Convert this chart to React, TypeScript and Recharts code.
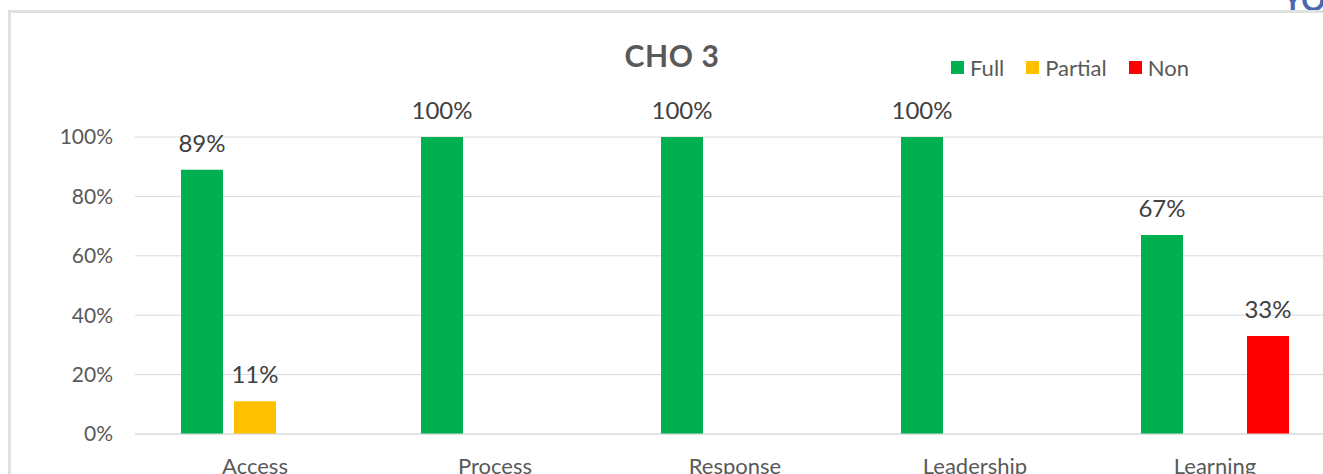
import React from 'react';
import { BarChart, Bar, XAxis, YAxis, CartesianGrid, LabelList, Legend } from 'recharts';

// Share of items rated Full / Partial / Non per domain
const categories = ['Access', 'Process', 'Response', 'Leadership', 'Learning'];
const fullValues = [0.89, 1, 1, 1, 0.67];
const partialValues = [0.11, 0, 0, 0, 0];
const nonValues = [0, 0, 0, 0, 0.33];
const yTicks = [0, 0.2, 0.4, 0.6, 0.8, 1];

const seriesNames = ['Full', 'Partial', 'Non'];
const seriesColors = ['#00B050', '#FFC000', '#FF0000'];

const data = categories.map((name, i) => ({
  name,
  Full: fullValues[i],
  Partial: partialValues[i],
  Non: nonValues[i],
}));

const FONT = 'Lato, "Open Sans", sans-serif';
const pct = (v: number) => `${Math.round(v * 100)}%`;
const labelFmt = (v: any) => (Number(v) > 0 ? pct(Number(v)) : '');

const LegendContent = () => (
  <div style={{ display: 'flex', alignItems: 'center', fontFamily: FONT, fontSize: 22, color: '#595959', whiteSpace: 'nowrap' }}>
    {seriesNames.map((n, i) => (
      <div key={n} style={{ display: 'flex', alignItems: 'center', marginRight: 22 }}>
        <span style={{ display: 'inline-block', width: 13, height: 13, background: seriesColors[i], marginRight: 6 }} />
        <span>{n}</span>
      </div>
    ))}
  </div>
);

export default function App() {
  return (
    <div style={{ position: 'absolute', left: 0, top: 0, width: 1323, height: 474, overflow: 'hidden', background: '#fff' }}>
      {/* heading fragment above the chart frame */}
      <div style={{ position: 'absolute', left: 1283, top: -19, fontFamily: FONT, fontWeight: 700, fontSize: 30, color: '#4A66AC', whiteSpace: 'nowrap' }}>
        YOU
      </div>
      <div style={{ position: 'absolute', left: 0, top: 10, width: 1323, height: 464, background: '#fff' }} />
      <div style={{ position: 'absolute', left: 8, top: 10, width: 1400, height: 500, borderLeft: '3px solid #e0e0e0', borderTop: '3px solid #e0e0e0' }} />
      <div style={{ position: 'absolute', left: 0, top: 0 }}>
        <BarChart
          width={1335}
          height={474}
          data={data}
          margin={{ top: 137, right: 0, bottom: 0, left: 0 }}
          barSize={42}
          barGap={11}
          barCategoryGap={46}
        >
          <CartesianGrid vertical={false} stroke="#d9d9d9" strokeWidth={1} />
          <XAxis
            dataKey="name"
            height={40}
            tickLine={false}
            tickSize={0}
            tickMargin={24}
            axisLine={{ stroke: '#d9d9d9' }}
            tick={{ fill: '#595959', fontSize: 22, fontFamily: FONT }}
          />
          <YAxis
            width={135}
            domain={[0, 1]}
            ticks={yTicks}
            tickFormatter={pct}
            tickLine={false}
            tickSize={0}
            tickMargin={22}
            axisLine={false}
            tick={{ fill: '#595959', fontSize: 21, fontFamily: FONT }}
          />
          <Legend
            layout="horizontal"
            verticalAlign="middle"
            align="center"
            content={<LegendContent />}
            wrapperStyle={{ left: 951, top: 54, width: 'auto', height: 26 }}
          />
          {seriesNames.map((n, i) => (
            <Bar key={n} dataKey={n} fill={seriesColors[i]} isAnimationActive={false}>
              <LabelList
                dataKey={n}
                position="top"
                offset={18}
                formatter={labelFmt}
                style={{ fill: '#404040', fontSize: 24, fontFamily: FONT }}
              />
            </Bar>
          ))}
        </BarChart>
      </div>
      <div style={{ position: 'absolute', left: 0, width: 1344, top: 37, textAlign: 'center', fontFamily: FONT, fontWeight: 700, fontSize: 30, letterSpacing: 0.6, color: '#595959' }}>
        CHO 3
      </div>
    </div>
  );
}
